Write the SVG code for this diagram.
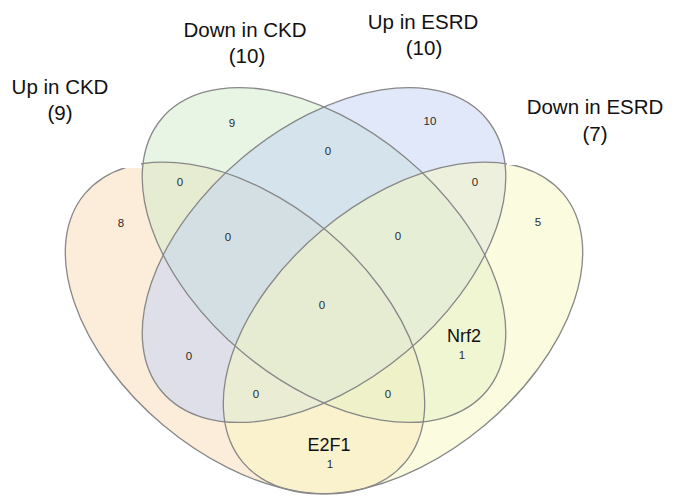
<svg xmlns="http://www.w3.org/2000/svg" width="675" height="500" viewBox="0 0 675 500">
  <style>
    .fill { stroke: none; fill-opacity: 0.52; }
    .outline { fill: none; stroke: #888888; stroke-width: 1.3; }
    .lbl { font-family: "Liberation Sans", Arial, sans-serif; font-size: 20.5px; fill: #111111; text-anchor: middle; }
    .num { font-family: "Liberation Sans", Arial, sans-serif; font-size: 11.5px; fill: #2a2a2a; text-anchor: middle; }
    .gene { font-family: "Liberation Sans", Arial, sans-serif; font-size: 18px; fill: #111111; text-anchor: middle; }
  </style>
  <defs>
    <ellipse id="e1" cx="0" cy="0" rx="209" ry="127" transform="translate(245 328) rotate(40)"/>
    <ellipse id="e2" cx="0" cy="0" rx="212" ry="127" transform="translate(324 255) rotate(40)"/>
    <ellipse id="e3" cx="0" cy="0" rx="212" ry="127" transform="translate(324 255) rotate(-40)"/>
    <ellipse id="e4" cx="0" cy="0" rx="209" ry="127" transform="translate(403 328) rotate(-40)"/>
  </defs>
  <rect width="675" height="500" fill="#ffffff"/>

  <g id="set-up-in-ckd">
    <use href="#e1" class="fill" fill="#F7DDB9"/>
  </g>
  <g id="set-down-in-ckd">
    <use href="#e2" class="fill" fill="#D3EBCB"/>
    <text class="lbl" x="245" y="37">Down in CKD</text>
    <text class="lbl" x="247" y="63">(10)</text>
  </g>
  <g id="set-up-in-esrd">
    <use href="#e3" class="fill" fill="#C3D3F5"/>
    <text class="lbl" x="423" y="29">Up in ESRD</text>
    <text class="lbl" x="424" y="55">(10)</text>
  </g>
  <g id="set-down-in-esrd">
    <use href="#e4" class="fill" fill="#F7F7C1"/>
  </g>

  <g id="connectors">
    <use href="#e1" class="outline"/>
    <use href="#e2" class="outline"/>
    <use href="#e3" class="outline"/>
    <use href="#e4" class="outline"/>
  </g>

  <!-- label background boxes that hide the tops of the outer sets -->
  <g id="label-up-in-ckd">
    <rect x="0" y="0" width="141" height="168" fill="#ffffff"/>
    <text class="lbl" x="60" y="94">Up in CKD</text>
    <text class="lbl" x="60" y="120">(9)</text>
  </g>
  <g id="label-down-in-esrd">
    <rect x="507" y="0" width="168" height="165" fill="#ffffff"/>
    <text class="lbl" x="595" y="114">Down in ESRD</text>
    <text class="lbl" x="595" y="141">(7)</text>
  </g>

  <g id="counts">
    <text class="num" x="232" y="127">9</text>
    <text class="num" x="430" y="125">10</text>
    <text class="num" x="328" y="155">0</text>
    <text class="num" x="180" y="186">0</text>
    <text class="num" x="121" y="227">8</text>
    <text class="num" x="228" y="241">0</text>
    <text class="num" x="398" y="240">0</text>
    <text class="num" x="475" y="186">0</text>
    <text class="num" x="538" y="226">5</text>
    <text class="num" x="322" y="309">0</text>
    <text class="num" x="189" y="360">0</text>
    <text class="gene" x="464" y="342">Nrf2</text>
    <text class="num" x="462" y="359">1</text>
    <text class="num" x="256" y="398">0</text>
    <text class="num" x="388" y="398">0</text>
    <text class="gene" x="329" y="451">E2F1</text>
    <text class="num" x="330" y="468">1</text>
  </g>
</svg>
